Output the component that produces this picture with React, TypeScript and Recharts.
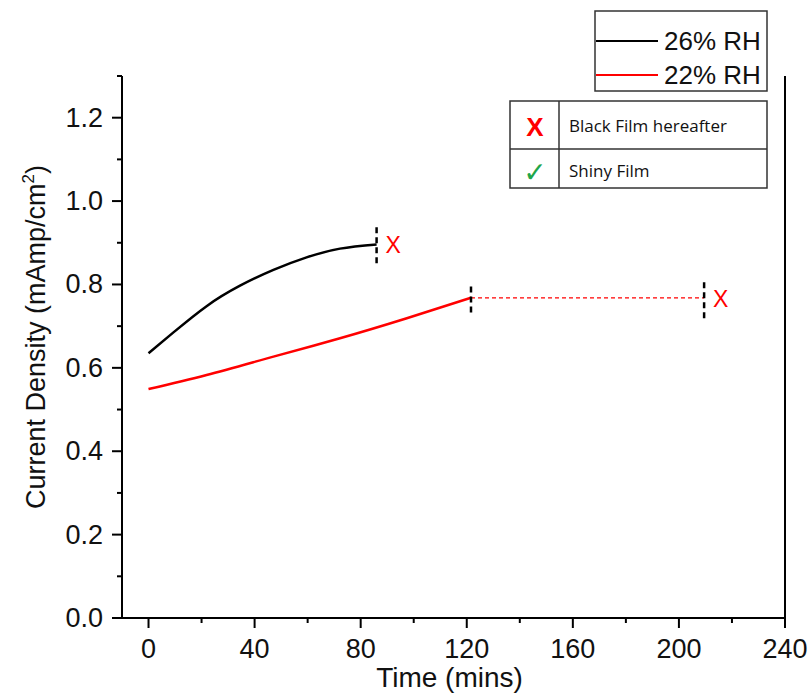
import { LineChart, Line, XAxis, YAxis, ReferenceLine, Label } from "recharts";

// 26% RH (black)
const rh26Time = [0, 9.4, 21.9, 34.5, 47.1, 59.6, 72.2, 86];
const rh26Density = [0.635, 0.685, 0.748, 0.797, 0.835, 0.865, 0.886, 0.896];

// 22% RH (red)
const rh22Time = [0, 21.9, 47.1, 72.2, 97.4, 121.6];
const rh22Density = [0.549, 0.583, 0.627, 0.671, 0.719, 0.768];

// dotted continuation of 22% RH
const rh22TailTime = [121.6, 209.5];
const rh22TailDensity = [0.768, 0.768];

// dashed markers where film state changes
const markerTime = [86, 121.6, 209.5];
const markerLow = [0.851, 0.733, 0.719];
const markerHigh = [0.941, 0.802, 0.811];
const markerText = ["X", "", "X"];

const xTicks = [0, 20, 40, 60, 80, 100, 120, 140, 160, 180, 200, 220, 240];
const yTicks = [0, 0.1, 0.2, 0.3, 0.4, 0.5, 0.6, 0.7, 0.8, 0.9, 1.0, 1.1, 1.2, 1.3];

const toPoints = (t: number[], v: number[]) => t.map((x, i) => ({ t: x, v: v[i] }));

const rh26 = toPoints(rh26Time, rh26Density);
const rh22 = toPoints(rh22Time, rh22Density);
const rh22Tail = toPoints(rh22TailTime, rh22TailDensity);

const FONT = "'Liberation Sans', Arial, sans-serif";

const XTick = (props: any) => {
    const { x, y, payload } = props;
    const major = payload.value % 40 === 0;
    return (
        <g>
            <line x1={x} y1={y} x2={x} y2={y + (major ? 10 : 5)} stroke="#000" strokeWidth={2} />
            {major && (
                <text x={x} y={y + 40} textAnchor="middle" fontSize={27} fill="#111" fontFamily={FONT}>
                    {payload.value}
                </text>
            )}
        </g>
    );
};

const YTick = (props: any) => {
    const { x, y, payload } = props;
    const major = Math.round(payload.value * 10) % 2 === 0;
    return (
        <g>
            <line x1={x} y1={y} x2={x - (major ? 10 : 5)} y2={y} stroke="#000" strokeWidth={2} />
            {major && (
                <text x={x - 19} y={y + 9} textAnchor="end" fontSize={27} fill="#111" fontFamily={FONT}>
                    {payload.value.toFixed(1)}
                </text>
            )}
        </g>
    );
};

const YTitle = ({ viewBox }: any) => {
    const cx = viewBox.x + 45;
    const cy = viewBox.y + viewBox.height / 2 - 10;
    return (
        <text
            x={cx}
            y={cy}
            transform={`rotate(-90, ${cx}, ${cy})`}
            textAnchor="middle"
            fontSize={27}
            fill="#111"
            fontFamily={FONT}
        >
            Current Density (mAmp/cm
            <tspan dy={-11} fontSize={17}>2</tspan>
            <tspan dy={11}>)</tspan>
        </text>
    );
};

const XTitle = ({ viewBox }: any) => (
    <text
        x={viewBox.x + viewBox.width / 2 - 4}
        y={viewBox.y + 69}
        textAnchor="middle"
        fontSize={28}
        fill="#111"
        fontFamily={FONT}
    >
        Time (mins)
    </text>
);

function Legends() {
    return (
        <svg
            width={812}
            height={693}
            style={{ position: "absolute", left: 0, top: 0, pointerEvents: "none" }}
        >
            <rect x={595} y={11} width={172} height={80} fill="#fff" stroke="#333" strokeWidth={1.5} />
            <line x1={596} y1={41} x2={658} y2={41} stroke="#000" strokeWidth={2} />
            <text x={664} y={50} fontSize={26} fill="#111" fontFamily={FONT}>26% RH</text>
            <line x1={596} y1={75} x2={658} y2={75} stroke="#ff0000" strokeWidth={2} />
            <text x={664} y={84} fontSize={26} fill="#111" fontFamily={FONT}>22% RH</text>

            <rect x={510} y={101} width={257} height={87} fill="#fff" stroke="#333" strokeWidth={1.5} />
            <line x1={510} y1={149} x2={767} y2={149} stroke="#333" strokeWidth={1.5} />
            <line x1={559} y1={101} x2={559} y2={188} stroke="#333" strokeWidth={1.5} />
            <text x={535} y={136} textAnchor="middle" fontSize={26} fontWeight="bold" fill="#ff0000" fontFamily="'Liberation Sans Narrow', 'Liberation Sans', sans-serif">X</text>
            <text x={535} y={182} textAnchor="middle" fontSize={28} fill="#1fa64a" fontFamily="'DejaVu Sans', sans-serif">✓</text>
            <text x={569} y={132} fontSize={17} fill="#111" fontFamily="'Open Sans', sans-serif">Black Film hereafter</text>
            <text x={569} y={177} fontSize={17} fill="#111" fontFamily="'Open Sans', sans-serif">Shiny Film</text>
        </svg>
    );
}

export default function App() {
    return (
        <div style={{ position: "absolute", left: 0, top: 0, width: 812, height: 693, background: "#fff" }}>
            <LineChart width={812} height={693} margin={{ top: 76, right: 27, bottom: 0, left: 0 }}>
                <XAxis
                    type="number"
                    dataKey="t"
                    domain={[-10, 240]}
                    ticks={xTicks}
                    interval={0}
                    allowDataOverflow
                    height={75}
                    tickLine={false}
                    tickSize={0}
                    tickMargin={0}
                    tick={<XTick />}
                    axisLine={{ stroke: "#000", strokeWidth: 2 }}
                >
                    <Label content={<XTitle />} />
                </XAxis>
                <YAxis
                    type="number"
                    dataKey="v"
                    domain={[0, 1.3]}
                    ticks={yTicks}
                    interval={0}
                    allowDataOverflow
                    width={122}
                    tickLine={false}
                    tickSize={0}
                    tickMargin={0}
                    tick={<YTick />}
                    axisLine={{ stroke: "#000", strokeWidth: 2 }}
                >
                    <Label content={<YTitle />} />
                </YAxis>
                <ReferenceLine x={240} stroke="#000" strokeWidth={2} />
                <Line
                    data={rh22Tail}
                    dataKey="v"
                    type="linear"
                    stroke="#ff0000"
                    strokeWidth={1.3}
                    strokeDasharray="4 3"
                    dot={false}
                    isAnimationActive={false}
                />
                <Line
                    data={rh26}
                    dataKey="v"
                    type="natural"
                    stroke="#000"
                    strokeWidth={2.5}
                    dot={false}
                    isAnimationActive={false}
                />
                <Line
                    data={rh22}
                    dataKey="v"
                    type="natural"
                    stroke="#ff0000"
                    strokeWidth={2.5}
                    dot={false}
                    isAnimationActive={false}
                />
                {markerTime.map((t, i) => (
                    <ReferenceLine
                        key={i}
                        segment={[{ x: t, y: markerLow[i] }, { x: t, y: markerHigh[i] }]}
                        stroke="#000"
                        strokeWidth={2.5}
                        strokeDasharray="6 4"
                        label={
                            markerText[i]
                                ? { value: markerText[i], position: "right", offset: 9, fill: "#ff0000", fontSize: 23, fontFamily: FONT }
                                : undefined
                        }
                    />
                ))}
            </LineChart>
            <Legends />
        </div>
    );
}
